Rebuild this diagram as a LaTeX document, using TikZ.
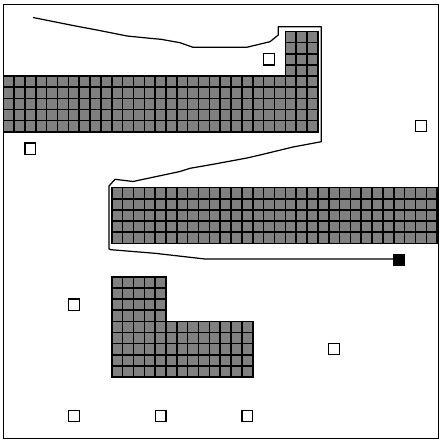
\documentclass[tikz,border=0pt]{standalone}
\usepackage{tikz}

\begin{document}
\begin{tikzpicture}[x=0.02cm,y=-0.02cm,
  wall/.style={fill=gray,draw=black,line width=0.9pt},
  beacon/.style={fill=white,draw=black,line width=0.7pt},
  trail/.style={line width=0.7pt,line join=round}]
  \useasboundingbox (0,0) rectangle (444,440);
  \draw[line width=0.7pt] (3.5,4.3) rectangle (438.3,438.5);
  % obstacles and markers, one unit = one cell
  \begin{scope}[shift={(3.3,31.5)},x=0.217cm,y=-0.223cm]
    \foreach \i in {26,...,28} \foreach \j in {0,...,3}
      \draw[wall] (\i,\j) rectangle ++(1,1);
    \foreach \i in {0,...,28} \foreach \j in {4,...,8}
      \draw[wall] (\i,\j) rectangle ++(1,1);
    \foreach \i in {10,...,39} \foreach \j in {14,...,18}
      \draw[wall] (\i,\j) rectangle ++(1,1);
    \foreach \i in {10,...,14} \foreach \j in {22,...,25}
      \draw[wall] (\i,\j) rectangle ++(1,1);
    \foreach \i in {10,...,22} \foreach \j in {26,...,30}
      \draw[wall] (\i,\j) rectangle ++(1,1);
    \foreach \i/\j in {24/2,38/8,2/10,6/24,30/28,6/34,14/34,22/34}
      \draw[beacon] (\i,\j) rectangle ++(1,1);
    \fill[black] (35.95,19.95) rectangle ++(1.1,1.1);
  \end{scope}
  % travelled path
  \draw[trail] (33,17.5) -- (53,21.5) -- (73,25.5) -- (97,30) -- (127,36)
    -- (150,38.3) -- (161,39.3) -- (180,42.7) -- (193,47.3) -- (246.7,47.3)
    -- (270,41.7) -- (278.3,35) -- (278.3,26.7) -- (321.3,26.7) -- (321.3,141.7)
    -- (293,147) -- (260,155) -- (247,158) -- (213,164.3) -- (190,168.3)
    -- (180,171.5) -- (133,181.5) -- (115,179.3) -- (109,186) -- (109,249)
    -- (111,249.7) -- (155,253.3) -- (205,259) -- (395,259);
\end{tikzpicture}
\end{document}
